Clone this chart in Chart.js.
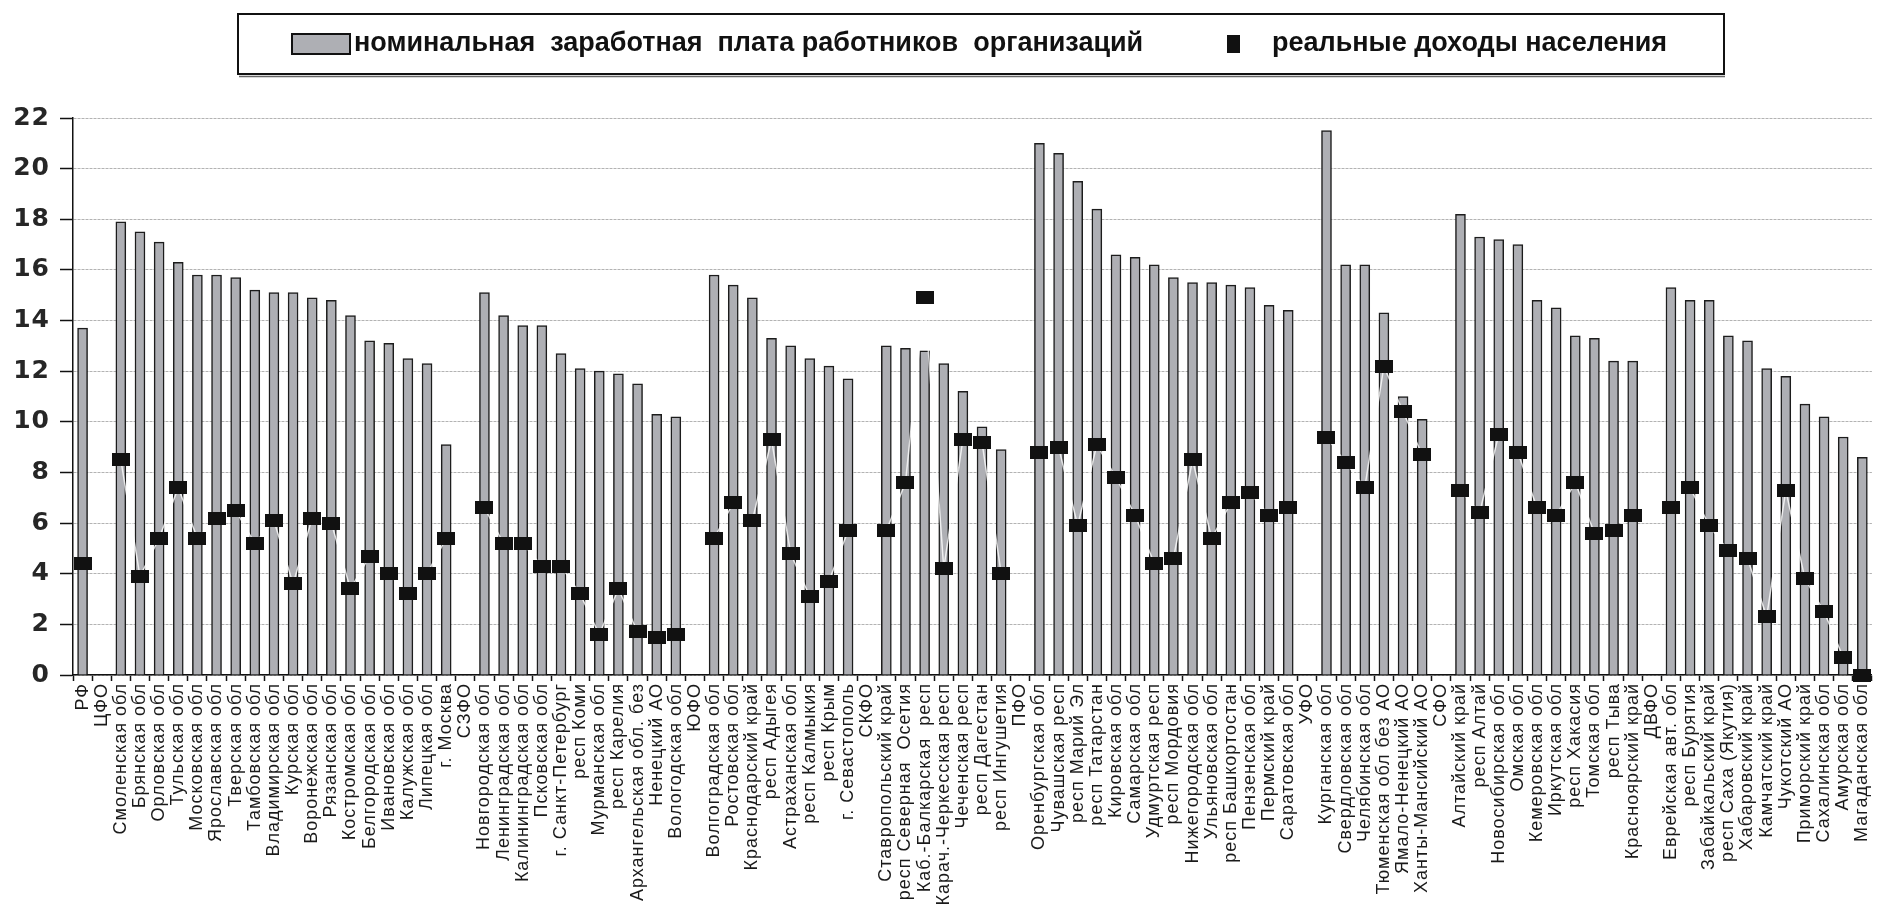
<!DOCTYPE html>
<html lang="ru">
<head>
<meta charset="utf-8">
<title>Номинальная заработная плата и реальные доходы населения</title>
<script src="https://cdn.jsdelivr.net/npm/chart.js@4.4.1/dist/chart.umd.min.js"></script>
<style>
  html, body { margin: 0; padding: 0; background: #fff; }
  #wrap { width: 1886px; height: 917px; }
</style>
</head>
<body>
<div id="wrap"><canvas id="myChart" width="1886" height="917"></canvas></div>
<script>
// регионы (пустые значения - заголовки федеральных округов)
var regions = [
    "РФ", "ЦФО", "Смоленская обл", "Брянская обл", "Орловская обл", "Тульская обл", "Московская обл",
    "Ярославская обл", "Тверская обл", "Тамбовская обл", "Владимирская обл", "Курская обл",
    "Воронежская обл", "Рязанская обл", "Костромская обл", "Белгородская обл", "Ивановская обл",
    "Калужская обл", "Липецкая обл", "г. Москва",
    "СЗФО", "Новгородская обл", "Ленинградская обл", "Калининградская обл", "Псковская обл",
    "г. Санкт-Петербург", "респ Коми", "Мурманская обл", "респ Карелия", "Архангельская обл. без",
    "Ненецкий АО", "Вологодская обл",
    "ЮФО", "Волгоградская обл", "Ростовская обл", "Краснодарский край", "респ Адыгея",
    "Астраханская обл", "респ Калмыкия", "респ Крым", "г. Севастополь",
    "СКФО", "Ставропольский край", "респ Северная  Осетия", "Каб.-Балкарская  респ",
    "Карач.-Черкесская респ", "Чеченская респ", "респ Дагестан", "респ Ингушетия",
    "ПФО", "Оренбургская обл", "Чувашская респ", "респ Марий Эл", "респ Татарстан", "Кировская обл",
    "Самарская обл", "Удмуртская респ", "респ Мордовия", "Нижегородская обл", "Ульяновская обл",
    "респ Башкортостан", "Пензенская обл", "Пермский край", "Саратовская обл",
    "УФО", "Курганская обл", "Свердловская обл", "Челябинская обл", "Тюменская обл без АО",
    "Ямало-Ненецкий АО", "Ханты-Мансийский АО",
    "СФО", "Алтайский край", "респ Алтай", "Новосибирская обл", "Омская обл", "Кемеровская обл",
    "Иркутская обл", "респ Хакасия", "Томская обл", "респ Тыва", "Красноярский край",
    "ДВФО", "Еврейская авт. обл", "респ Бурятия", "Забайкальский край", "респ Саха (Якутия)",
    "Хабаровский край", "Камчатский край", "Чукотский АО", "Приморский край", "Сахалинская обл",
    "Амурская обл", "Магаданская обл"
];

var wages = [
    13.7, null, 17.9, 17.5, 17.1, 16.3, 15.8, 15.8, 15.7, 15.2, 15.1, 15.1, 14.9, 14.8, 14.2, 13.2, 13.1, 12.5, 12.3, 9.1,
    null, 15.1, 14.2, 13.8, 13.8, 12.7, 12.1, 12.0, 11.9, 11.5, 10.3, 10.2,
    null, 15.8, 15.4, 14.9, 13.3, 13.0, 12.5, 12.2, 11.7,
    null, 13.0, 12.9, 12.8, 12.3, 11.2, 9.8, 8.9,
    null, 21.0, 20.6, 19.5, 18.4, 16.6, 16.5, 16.2, 15.7, 15.5, 15.5, 15.4, 15.3, 14.6, 14.4,
    null, 21.5, 16.2, 16.2, 14.3, 11.0, 10.1,
    null, 18.2, 17.3, 17.2, 17.0, 14.8, 14.5, 13.4, 13.3, 12.4, 12.4,
    null, 15.3, 14.8, 14.8, 13.4, 13.2, 12.1, 11.8, 10.7, 10.2, 9.4, 8.6
];

var incomes = [
    4.4, null, 8.5, 3.9, 5.4, 7.4, 5.4, 6.2, 6.5, 5.2, 6.1, 3.6, 6.2, 6.0, 3.4, 4.7, 4.0, 3.2, 4.0, 5.4,
    null, 6.6, 5.2, 5.2, 4.3, 4.3, 3.2, 1.6, 3.4, 1.7, 1.5, 1.6,
    null, 5.4, 6.8, 6.1, 9.3, 4.8, 3.1, 3.7, 5.7,
    null, 5.7, 7.6, 14.9, 4.2, 9.3, 9.2, 4.0,
    null, 8.8, 9.0, 5.9, 9.1, 7.8, 6.3, 4.4, 4.6, 8.5, 5.4, 6.8, 7.2, 6.3, 6.6,
    null, 9.4, 8.4, 7.4, 12.2, 10.4, 8.7,
    null, 7.3, 6.4, 9.5, 8.8, 6.6, 6.3, 7.6, 5.6, 5.7, 6.3,
    null, 6.6, 7.4, 5.9, 4.9, 4.6, 2.3, 7.3, 3.8, 2.5, 0.7, 0.0
];

var yTicks = [0, 2, 4, 6, 8, 10, 12, 14, 16, 18, 20, 22];

var wageName = "номинальная  заработная  плата работников  организаций";
var incomeName = "реальные доходы населения";

document.addEventListener("DOMContentLoaded", function() {
    var barFill = '#aeafb4';

    // маркер - черный прямоугольник
    var marker = document.createElement('canvas');
    marker.width = 18;
    marker.height = 13;
    var mctx = marker.getContext('2d');
    mctx.fillStyle = '#111';
    mctx.fillRect(0, 0, 18, 13);

    // разрядка подписей оси X
    var spacing = {
        id: 'spacing',
        beforeDraw: function(chart) { chart.ctx.letterSpacing = '1px'; },
        afterDraw: function(chart) { chart.ctx.letterSpacing = '0px'; }
    };

    // легенда в рамке
    var boxedLegend = {
        id: 'boxedLegend',
        afterDraw: function(chart) {
            var ctx = chart.ctx;
            ctx.save();
            ctx.letterSpacing = '0px';
            ctx.strokeStyle = '#111';
            ctx.lineWidth = 2;
            ctx.strokeRect(238, 14, 1486, 60);
            ctx.strokeStyle = '#666';
            ctx.lineWidth = 1.5;
            ctx.beginPath();
            ctx.moveTo(239, 76.5);
            ctx.lineTo(1725, 76.5);
            ctx.stroke();

            ctx.fillStyle = barFill;
            ctx.fillRect(292, 34, 58, 20);
            ctx.strokeStyle = '#111';
            ctx.lineWidth = 2;
            ctx.strokeRect(292, 34, 58, 20);

            ctx.font = 'bold 27px "Liberation Sans", Arial, sans-serif';
            ctx.fillStyle = '#111';
            ctx.textBaseline = 'middle';
            ctx.fillText(wageName, 354, 44);

            ctx.fillRect(1227, 35, 13, 18);
            ctx.fillText(incomeName, 1272, 44);
            ctx.restore();
        }
    };

    var ctx = document.getElementById('myChart').getContext('2d');
    var myChart = new Chart(ctx, {
        type: 'bar',
        data: {
            labels: regions,
            datasets: [{
                    type: 'line',
                    label: incomeName,
                    data: incomes,
                    borderColor: 'rgba(255, 255, 255, 0.8)',
                    borderWidth: 1.5,
                    pointStyle: marker,
                    pointRadius: 9,
                    spanGaps: false,
                    clip: false,
                    order: 0
                },
                {
                    label: wageName,
                    data: wages,
                    backgroundColor: barFill,
                    borderColor: '#1c1c1c',
                    borderWidth: 1.5,
                    barThickness: 10,
                    order: 1
                }
            ]
        },
        options: {
            responsive: false,
            animation: false,
            devicePixelRatio: 1,
            layout: {
                padding: { top: 118, right: 2, left: 0, bottom: 0 }
            },
            plugins: {
                legend: { display: false },
                tooltip: { enabled: false }
            },
            scales: {
                x: {
                    grid: {
                        drawOnChartArea: false,
                        tickLength: 6,
                        tickColor: '#111',
                        tickWidth: 1.5
                    },
                    border: { color: '#111', width: 1.5 },
                    ticks: {
                        autoSkip: false,
                        maxRotation: 90,
                        minRotation: 90,
                        padding: 2,
                        color: '#1a1a1a',
                        font: { family: '"Liberation Sans", Arial, sans-serif', size: 18 }
                    },
                    afterFit: function(scale) { scale.height = 242; }
                },
                y: {
                    min: yTicks[0],
                    max: yTicks[yTicks.length - 1],
                    afterBuildTicks: function(scale) {
                        scale.ticks = yTicks.map(function(v) { return { value: v }; });
                    },
                    grid: {
                        color: '#b3b3b3',
                        lineWidth: 1,
                        tickLength: 13,
                        tickColor: '#111',
                        tickWidth: 1.5
                    },
                    border: { color: '#111', width: 1.5, dash: [3, 1] },
                    ticks: {
                        padding: 10,
                        color: '#262626',
                        font: { family: '"DejaVu Sans", sans-serif', size: 25, weight: 'bold' }
                    },
                    afterFit: function(scale) { scale.width = 73; }
                }
            }
        },
        plugins: [spacing, boxedLegend]
    });
});
</script>
</body>
</html>
